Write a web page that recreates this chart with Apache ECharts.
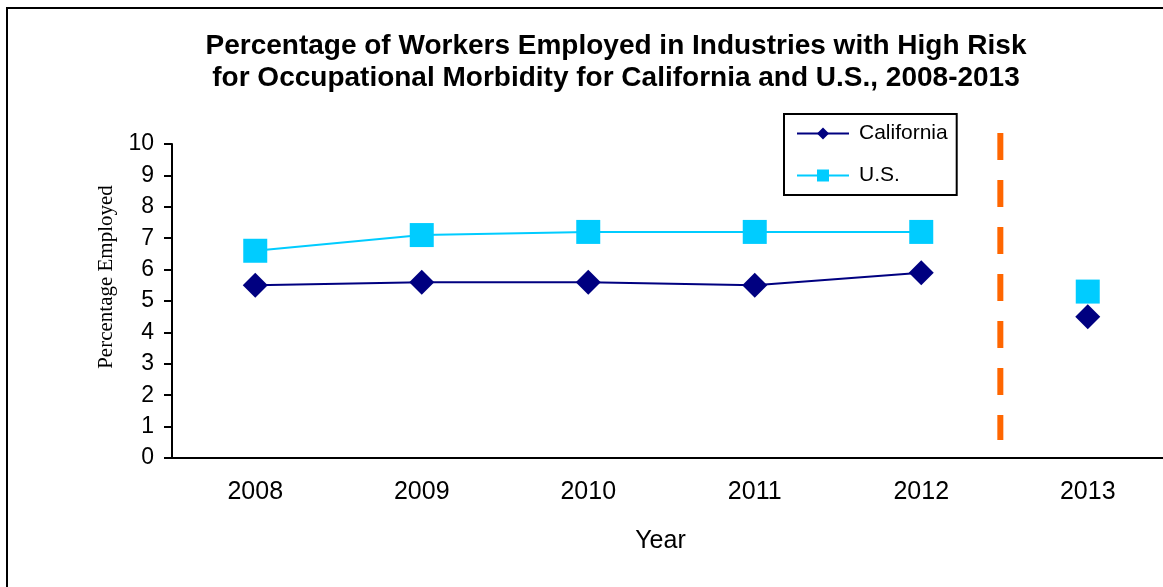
<!DOCTYPE html>
<html>
<head>
<meta charset="utf-8">
<script src="https://cdn.jsdelivr.net/npm/echarts@6/dist/echarts.min.js"></script>
<style>
  html, body { margin: 0; padding: 0; background: #fff; }
  #chart { width: 1163px; height: 587px; }
</style>
</head>
<body>
<div id="chart"></div>
<script>
// chart values
const years = ['2008', '2009', '2010', '2011', '2012', '2013'];
const california = [5.5, 5.6, 5.6, 5.5, 5.9, 4.5];
const usValues = [6.6, 7.1, 7.2, 7.2, 7.2, 5.3];
const yTicks = [0, 10, 1];            // min, max, interval
const dividerPos = 4.975;             // dashed divider, just left of the 2012/2013 boundary
const dividerSpan = [10.35, 0.57];    // top and bottom of dashed divider

const sans = "'Liberation Sans', Arial, sans-serif";
const serif = "'Liberation Serif', 'Times New Roman', serif";

const chart = echarts.init(document.getElementById('chart'));

// connected part (2008-2012) and the separate 2013 point
const lastIdx = years.length - 1;
const caLine = california.slice(0, lastIdx);
const usLine = usValues.slice(0, lastIdx);

const option = {
    animation: false,
    title: {
        text: 'Percentage of Workers Employed in Industries with High Risk\nfor Occupational Morbidity for California and U.S., 2008-2013',
        left: 616,
        top: 30,
        textAlign: 'center',
        padding: 0,
        textStyle: { fontFamily: sans, fontSize: 28, fontWeight: 'bold', color: '#000', lineHeight: 32 }
    },
    legend: {
        data: ['California', 'U.S.'],
        orient: 'vertical',
        left: 784,
        top: 114,
        padding: [9, 9, 9, 12],
        itemWidth: 52,
        itemHeight: 15,
        itemGap: 21,
        borderColor: '#000',
        borderWidth: 2,
        textStyle: { fontFamily: sans, fontSize: 21, color: '#000', padding: [0, 0, 0, 5] }
    },
    graphic: [{
        type: 'rect',
        shape: { x: 7, y: 8, width: 1300, height: 700 },
        style: { fill: 'none', stroke: '#000', lineWidth: 2 },
        silent: true,
        z: -1
    }],
    // plot area runs a little past the right edge of the picture
    grid: { left: 172, top: 144, width: 999, height: 314, outerBoundsMode: 'none' },
    xAxis: [{
        type: 'category',
        data: years,
        boundaryGap: true,
        name: 'Year',
        nameLocation: 'middle',
        nameGap: 71,
        nameTextStyle: { fontFamily: sans, fontSize: 25, color: '#000', padding: [0, 22, 0, 0] },
        axisLine: { lineStyle: { color: '#000', width: 2 } },
        axisTick: { length: 8, lineStyle: { color: '#000', width: 2 } },
        axisLabel: { fontFamily: sans, fontSize: 25, color: '#000', margin: 22 }
    }, {
        type: 'value',
        min: 0,
        max: years.length,
        show: false
    }],
    yAxis: {
        type: 'value',
        min: yTicks[0],
        max: yTicks[1],
        interval: yTicks[2],
        name: 'Percentage Employed',
        nameLocation: 'middle',
        nameGap: 55,
        nameRotate: 90,
        nameTextStyle: { fontFamily: serif, fontSize: 21, color: '#000', padding: [0, 0, 0, 48] },
        axisLine: { show: true, lineStyle: { color: '#000', width: 2 } },
        axisTick: { show: true, length: 8, lineStyle: { color: '#000', width: 2 } },
        axisLabel: { fontFamily: sans, fontSize: 23, color: '#000', margin: 18 },
        splitLine: { show: false }
    },
    series: [
        {
            name: 'California',
            type: 'line',
            data: caLine,
            symbol: 'diamond',
            symbolSize: 25,
            color: '#000080',
            lineStyle: { width: 2, color: '#000080' },
            itemStyle: { color: '#000080' },
            z: 3
        },
        {
            name: 'U.S.',
            type: 'line',
            data: usLine,
            symbol: 'rect',
            symbolSize: 24,
            color: '#00CCFF',
            lineStyle: { width: 2, color: '#00CCFF' },
            itemStyle: { color: '#00CCFF' },
            z: 2
        },
        {
            name: 'California 2013',
            type: 'scatter',
            data: [[years[lastIdx], california[lastIdx]]],
            symbol: 'diamond',
            symbolSize: 25,
            itemStyle: { color: '#000080', opacity: 1 },
            z: 3
        },
        {
            name: 'U.S. 2013',
            type: 'scatter',
            data: [[years[lastIdx], usValues[lastIdx]]],
            symbol: 'rect',
            symbolSize: 24,
            itemStyle: { color: '#00CCFF', opacity: 1 },
            z: 2
        },
        {
            name: 'divider',
            type: 'line',
            xAxisIndex: 1,
            data: [[dividerPos, dividerSpan[0]], [dividerPos, dividerSpan[1]]],
            symbol: 'none',
            clip: false,
            silent: true,
            lineStyle: { color: '#FF6600', width: 6, type: [27, 20] },
            z: 1
        }
    ]
};

chart.setOption(option);
</script>
</body>
</html>
